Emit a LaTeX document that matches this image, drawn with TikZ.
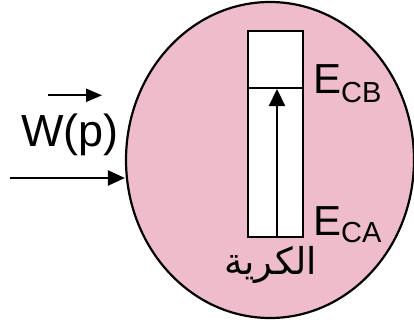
\documentclass[tikz,border=0pt]{standalone}
\usepackage{fontspec}
\setmainfont{Liberation Sans}
\newfontfamily\arabicfont[Script=Arabic]{DejaVu Sans}
\TeXXeTstate=1
\usetikzlibrary{arrows.meta, positioning, calc, shapes.geometric}
\definecolor{sPink}{HTML}{EEBCCB}

\begin{document}
\begin{tikzpicture}[x=1pt, y=-1pt, line width=2.2pt,
      sphere/.style={draw, ellipse, fill=sPink, minimum width=288pt, minimum height=316pt, inner sep=0pt},
      well/.style={draw, fill=white, minimum width=55pt, minimum height=206pt, inner sep=0pt},
      lbl/.style={inner sep=0pt, font=\fontsize{42}{42}\selectfont}]
    \useasboundingbox (0,0) rectangle (414,321);
    \node[sphere] (s) at (270,160) {};
    \node[well] (w) at (275.5,134) {};
    \coordinate (lvB) at (248,88);
    \coordinate (lvBr) at (303,88);
    \draw (lvB) -- (lvBr);
    \draw[-{Triangle[length=17pt, width=16pt]}] (277,237) -- (277,89);
    \node[lbl, anchor=base west] (eb) at (312,93) {E\raisebox{-9pt}{\fontsize{29}{29}\selectfont CB}};
    \node[lbl, anchor=base west] (ea) at (312,235) {E\raisebox{-7pt}{\fontsize{29}{29}\selectfont CA}};
    \node[inner sep=0pt, anchor=base] (name) at (271,274) {\fontsize{37}{37}\selectfont\arabicfont\beginR الكرية\endR};
    % input
    \node[inner sep=0pt, anchor=base west, font=\fontsize{45}{45}\selectfont] (wp) at (20,146) {W(p)};
    \coordinate (in) at (10,178);
    \draw[-{Triangle[length=17pt, width=15pt]}] (in) -- (in -| s.west);
    \draw[-{Triangle[length=16pt, width=13pt]}] ([xshift=28pt, yshift=17pt]wp.north west) -- ([xshift=82pt, yshift=17pt]wp.north west);
  \end{tikzpicture}
\end{document}
